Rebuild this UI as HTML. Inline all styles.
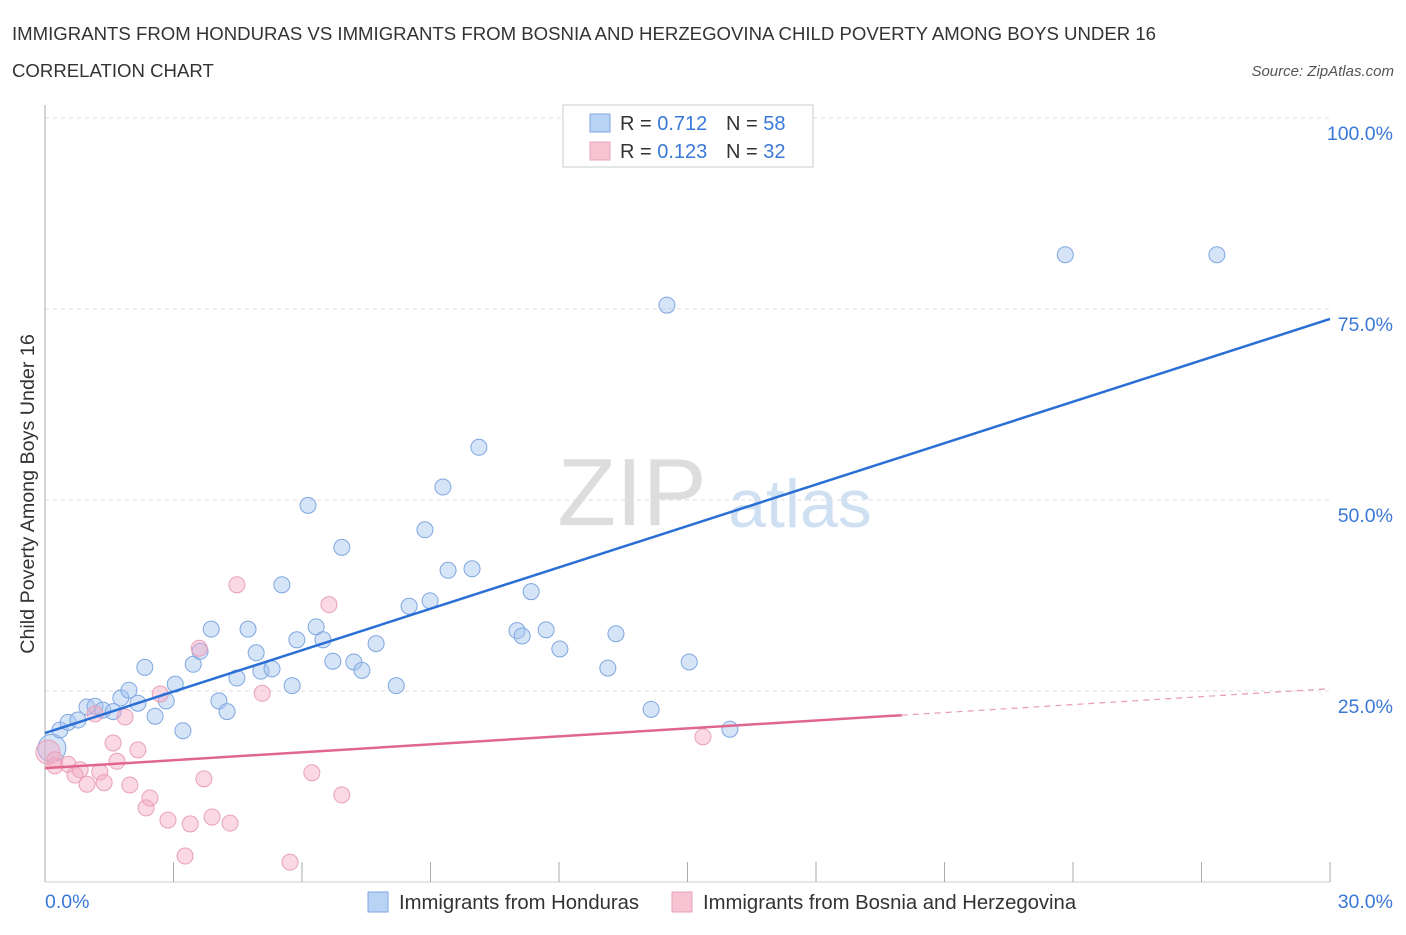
<!DOCTYPE html>
<html><head><meta charset="utf-8"><style>
body{margin:0;background:#fff;font-family:"Liberation Sans",sans-serif;}
svg text{font-family:"Liberation Sans",sans-serif;}
</style></head><body>
<svg id="c" width="1406" height="930">
<text x="12" y="40" font-size="18.6" fill="#333">IMMIGRANTS FROM HONDURAS VS IMMIGRANTS FROM BOSNIA AND HERZEGOVINA CHILD POVERTY AMONG BOYS UNDER 16</text>
<text x="12" y="77" font-size="18.6" fill="#333">CORRELATION CHART</text>
<text x="1394" y="76" font-size="15" fill="#555" font-style="italic" text-anchor="end">Source: ZipAtlas.com</text>
<text x="632" y="525" font-size="96" fill="#ddd" font-family="Liberation Serif" text-anchor="middle">ZIP</text>
<text x="800" y="527" font-size="68" fill="#cfe0f3" text-anchor="middle">atlas</text>
<text transform="translate(34,494) rotate(-90)" font-size="19.7" fill="#333" text-anchor="middle">Child Poverty Among Boys Under 16</text>
<g id="grid"></g><g id="pts"></g><g id="lines"></g>
<rect x="563" y="105" width="250" height="62" fill="#fff" stroke="#ccc"/>
<rect x="590" y="114" width="20" height="18" fill="#b9d3f5" stroke="#7fa7e0"/>
<text x="620" y="130" font-size="20" fill="#333">R = <tspan fill="#3a78d8">0.712</tspan></text>
<text x="726" y="130" font-size="20" fill="#333">N = <tspan fill="#3a78d8">58</tspan></text>
<rect x="590" y="142" width="20" height="18" fill="#f7c4d4" stroke="#e9a0b8"/>
<text x="620" y="158" font-size="20" fill="#333">R = <tspan fill="#3a78d8">0.123</tspan></text>
<text x="726" y="158" font-size="20" fill="#333">N = <tspan fill="#3a78d8">32</tspan></text>
<text x="45" y="908" font-size="19.5" fill="#3a78d8">0.0%</text>
<text x="1393" y="908" font-size="19.5" fill="#3a78d8" text-anchor="end">30.0%</text>
<rect x="368" y="892" width="20" height="20" fill="#b9d3f5" stroke="#7fa7e0"/>
<text x="399" y="909" font-size="20.3" fill="#333">Immigrants from Honduras</text>
<rect x="672" y="892" width="20" height="20" fill="#f7c4d4" stroke="#e9a0b8"/>
<text x="703" y="909" font-size="20.3" fill="#333">Immigrants from Bosnia and Herzegovina</text>
</svg>
<script>
const yTicks=[25,50,75,100];
const yTickLabels=["25.0%","50.0%","75.0%","100.0%"];
const xTicks=[0,3,6,9,12,15,18,21,24,27,30];
const hondX=[0.16,0.35,0.54,0.77,0.98,1.17,1.35,1.59,1.77,1.96,2.17,2.33,2.57,2.83,3.04,3.22,3.46,3.62,3.88,4.06,4.25,4.48,4.74,4.93,5.04,5.30,5.53,5.77,5.88,6.14,6.33,6.49,6.72,6.93,7.21,7.40,7.73,8.20,8.50,8.87,8.99,9.29,9.41,9.97,10.13,11.02,11.14,11.35,11.70,12.02,13.14,13.33,14.15,14.52,15.04,15.99,23.82,27.36];
const hondY=[17.5,19.9,20.9,21.2,22.9,23.0,22.5,22.3,24.1,25.1,23.4,28.1,21.7,23.7,25.9,19.8,28.5,30.2,33.1,23.7,22.3,26.7,33.1,30.0,27.6,27.9,38.9,25.7,31.7,49.3,33.4,31.7,28.9,43.8,28.8,27.7,31.2,25.7,36.1,46.1,36.8,51.7,40.8,41.0,56.9,32.9,32.2,38.0,33.0,30.5,28.0,32.5,22.6,75.5,28.8,20.0,82.1,82.1];
const bosX=[0.07,0.23,0.54,0.70,0.82,0.98,1.17,1.28,1.38,1.59,1.68,1.87,1.98,2.17,2.36,2.45,2.69,2.87,3.27,3.39,3.60,3.71,3.90,4.32,4.48,5.07,5.72,6.23,6.63,6.93,15.36,0.23];
const bosY=[17.0,16.0,15.4,14.0,14.7,12.8,22.0,14.4,13.0,18.2,15.8,21.6,12.7,17.3,9.7,11.0,24.6,8.1,3.4,7.6,30.6,13.5,8.5,7.7,38.9,24.7,2.6,14.3,36.3,11.4,19.0,15.2];
const hondFit=[19.5,73.7];
const bosFit=[14.9,25.3];
const NS="http://www.w3.org/2000/svg";
const X=v=>45+v*(1285/30), Y=v=>882-v*7.64;
function mk(t,a,p){const e=document.createElementNS(NS,t);for(const k in a)e.setAttribute(k,a[k]);document.getElementById(p).appendChild(e);return e;}
yTicks.forEach((t,i)=>{
 const g=mk('line',{x1:45,x2:1330,y1:Y(t),y2:Y(t),stroke:'#ddd','stroke-dasharray':'4,4'},'grid');
 
 
 const l=mk('text',{x:1393,y:Y(t)+22,'font-size':19.5,fill:'#3a78d8','text-anchor':'end'},'grid');l.textContent=yTickLabels[i];
 
 
});
const ax=mk('line',{x1:45,x2:45,y1:105,y2:882,stroke:'#aaa'},'grid');


const bx=mk('line',{x1:45,x2:1330,y1:882,y2:882,stroke:'#ccc'},'grid');


xTicks.forEach(t=>{const e=mk('line',{x1:X(t),x2:X(t),y1:862,y2:882,stroke:'#aaa'},'grid');
 
 });
hondX.forEach((x,i)=>{const big=i===0;const e=mk('circle',{cx:X(x),cy:Y(hondY[i]),r:big?14:8,fill:'rgba(164,196,240,0.45)',stroke:'#7fa7e0','stroke-width':1},'pts');
 
 });
bosX.forEach((x,i)=>{const big=i===0;const e=mk('circle',{cx:X(x),cy:Y(bosY[i]),r:big?12:8,fill:'rgba(245,170,195,0.45)',stroke:'#e9a0b8','stroke-width':1},'pts');
 
 });
const hl=mk('line',{x1:X(0),y1:Y(hondFit[0]),x2:X(30),y2:Y(hondFit[1]),stroke:'#2a6fd6','stroke-width':2.5},'lines');


const bm=bosFit[0]+(bosFit[1]-bosFit[0])*(20/30);
const bl=mk('line',{x1:X(0),y1:Y(bosFit[0]),x2:X(20),y2:Y(bm),stroke:'#e0668e','stroke-width':2.5},'lines');


const bd=mk('line',{x1:X(20),y1:Y(bm),x2:X(30),y2:Y(bosFit[1]),stroke:'#e99ab4','stroke-width':1.2,'stroke-dasharray':'6,5'},'lines');


</script>
</body></html>
